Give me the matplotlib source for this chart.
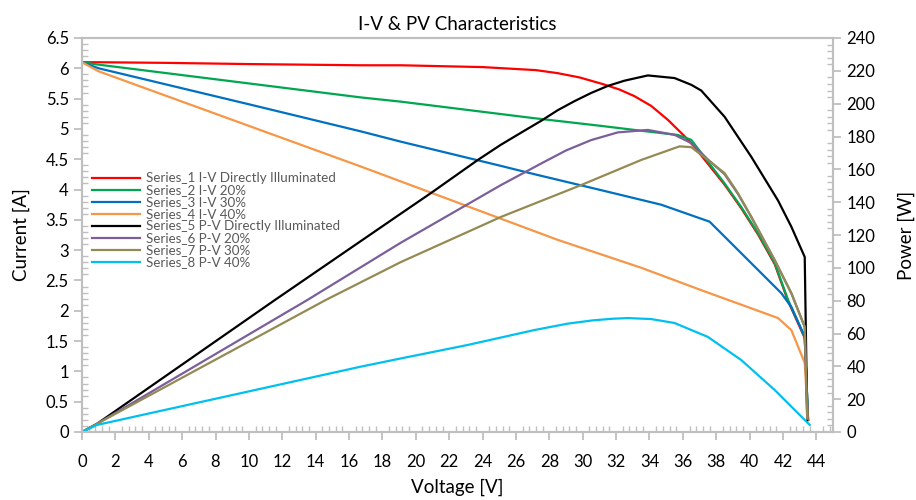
# I-V and P-V characteristics, twin y axes
import matplotlib
matplotlib.use('Agg')
import matplotlib.pyplot as plt
from matplotlib.ticker import MultipleLocator, FuncFormatter

plt.rcParams['font.family'] = ['Lato', 'DejaVu Sans']

# I-V curves (current in A)
v_iv_direct = [0, 1, 5, 10, 16.7, 19.1, 24, 27.2, 28.5, 29.8, 31.2, 32.2, 33.1, 34.1, 35.1, 36.1, 36.7, 38.5, 39.5, 40.5, 41.5, 42.3, 43.3, 43.5]
i_iv_direct = [6.1, 6.1, 6.09, 6.07, 6.05, 6.05, 6.02, 5.97, 5.92, 5.85, 5.74, 5.65, 5.54, 5.38, 5.15, 4.88, 4.7, 4.08, 3.69, 3.26, 2.77, 2.16, 1.55, 0.2]

v_iv_20 = [0, 1, 16.7, 19.1, 27, 31.1, 33.5, 35.7, 36.5, 38.5, 39.5, 40.5, 41.5, 42.3, 43.3, 43.5]
i_iv_20 = [6.1, 6.06, 5.52, 5.45, 5.18, 5.05, 4.97, 4.9, 4.82, 4.1, 3.71, 3.28, 2.79, 2.18, 1.57, 0.2]

v_iv_30 = [0, 1, 10.1, 16.7, 19.1, 25.1, 27, 31.1, 33.5, 34.7, 37.6, 41.9, 42.5, 43.3, 43.5]
i_iv_30 = [6.1, 6.0, 5.4, 4.96, 4.79, 4.39, 4.26, 3.99, 3.83, 3.75, 3.47, 2.29, 2.06, 1.57, 0.2]

v_iv_40 = [0, 1, 16.7, 28.5, 33.5, 37.1, 41.7, 42.5, 43.3, 43.5]
i_iv_40 = [6.1, 5.95, 4.38, 3.17, 2.71, 2.34, 1.88, 1.68, 1.14, 0.2]

# P-V curves (power in W)
v_pv_direct = [0, 0.9, 11.5, 19.1, 20.9, 23.7, 25.1, 26.5, 27.5, 28.5, 29.5, 30.5, 31.5, 32.5, 33.9, 35.5, 36.5, 37.1, 38.5, 40.1, 41.7, 42.5, 43.3, 43.45]
p_pv_direct = [0, 5, 80, 133, 145.5, 165.6, 175, 183.5, 189.5, 196, 201.5, 206.5, 210.8, 214, 217.2, 215.6, 211.5, 208, 192, 167.6, 141, 125, 106.6, 7]

v_pv_20 = [0, 0.9, 13.5, 19.1, 25.1, 27.5, 29, 30.5, 32.1, 33.9, 35.5, 36.5, 37.5, 38.5, 39.3, 40.1, 41.5, 42.5, 43.3, 43.45]
p_pv_20 = [0, 5, 80.4, 115.3, 150.4, 163.5, 171.5, 177.8, 182.5, 184, 181, 176, 166, 157, 145, 131, 104.7, 84.5, 64, 8]

v_pv_30 = [0, 0.9, 14.6, 19.1, 25.1, 29.9, 33.5, 35.8, 36.5, 37.5, 38.5, 39.3, 40.1, 41.5, 42.5, 43.3, 43.45]
p_pv_30 = [0, 5, 80.4, 103.5, 131, 150.4, 165.7, 174, 173.5, 165.7, 157.7, 145.5, 131, 104.7, 84.5, 64, 8.5]

v_pv_40 = [0, 0.9, 16.7, 19.1, 23.1, 27.1, 29.1, 30.6, 31.8, 32.7, 34.1, 35.5, 37.5, 39.5, 41.5, 42.7, 43.6]
p_pv_40 = [0, 4.3, 39.8, 44.8, 53, 62.1, 66, 68, 69, 69.4, 68.8, 66.4, 57.9, 43.8, 25.6, 13.4, 4.3]

labels = ['Series_1 I-V Directly Illuminated', 'Series_2 I-V 20%', 'Series_3 I-V 30%', 'Series_4 I-V 40%',
          'Series_5 P-V Directly Illuminated', 'Series_6 P-V 20%', 'Series_7 P-V 30%', 'Series_8 P-V 40%']
colors = ['#FF0000', '#00A650', '#0070C0', '#F79646', '#000000', '#7A5F9A', '#948A54', '#00C0F0']

fig = plt.figure(figsize=(9.16, 5.0), dpi=100)
ax = fig.add_axes([0.0895, 0.136, 0.82, 0.788])
ax2 = ax.twinx()

lw = 1.6
h = []
h += ax.plot(v_iv_direct, i_iv_direct, color=colors[0], lw=lw)
h += ax.plot(v_iv_20, i_iv_20, color=colors[1], lw=lw)
h += ax.plot(v_iv_30, i_iv_30, color=colors[2], lw=lw)
h += ax.plot(v_iv_40, i_iv_40, color=colors[3], lw=lw)
h += ax2.plot(v_pv_direct, p_pv_direct, color=colors[4], lw=lw)
h += ax2.plot(v_pv_20, p_pv_20, color=colors[5], lw=lw)
h += ax2.plot(v_pv_30, p_pv_30, color=colors[6], lw=lw)
h += ax2.plot(v_pv_40, p_pv_40, color=colors[7], lw=lw)

ax.xaxis.set_major_locator(MultipleLocator(2))
ax.xaxis.set_minor_locator(MultipleLocator(0.4))
ax.yaxis.set_major_locator(MultipleLocator(0.5))
ax.yaxis.set_minor_locator(MultipleLocator(0.1))
ax.yaxis.set_major_formatter(FuncFormatter(lambda t, p: '{:g}'.format(round(t, 2))))
ax2.yaxis.set_major_locator(MultipleLocator(20))
ax2.yaxis.set_minor_locator(MultipleLocator(4))
ax.set_xlim(0, 45)
ax.set_ylim(0, 6.5)
ax2.set_ylim(0, 240)

grey = '#BFBFBF'
for a in (ax, ax2):
    for s in a.spines.values():
        s.set_color(grey)
        s.set_linewidth(1.5)
    a.tick_params(which='major', direction='out', length=6, width=1.3, color=grey, labelsize=12, labelcolor='#000000')
    a.tick_params(which='minor', direction='in', length=4, width=1.0, color=grey)
ax.tick_params(axis='x', which='major', pad=10)

ax.set_title('I-V & PV Characteristics', fontsize=13.5, pad=6)
ax.set_xlabel('Voltage [V]', fontsize=13.5, labelpad=6)
ax.set_ylabel('Current [A]', fontsize=13.5, labelpad=11)
ax2.set_ylabel('Power [W]', fontsize=13.5, labelpad=16)

leg = ax2.legend(h, labels, loc='upper left', bbox_to_anchor=(0.1, 0.655), bbox_transform=fig.transFigure,
                 frameon=False, fontsize=9.6, handlelength=3.6, handletextpad=0.45, labelspacing=0.0,
                 borderaxespad=0, borderpad=0)
for t in leg.get_texts():
    t.set_color('#595959')

fig.savefig('out.png', dpi=100)
